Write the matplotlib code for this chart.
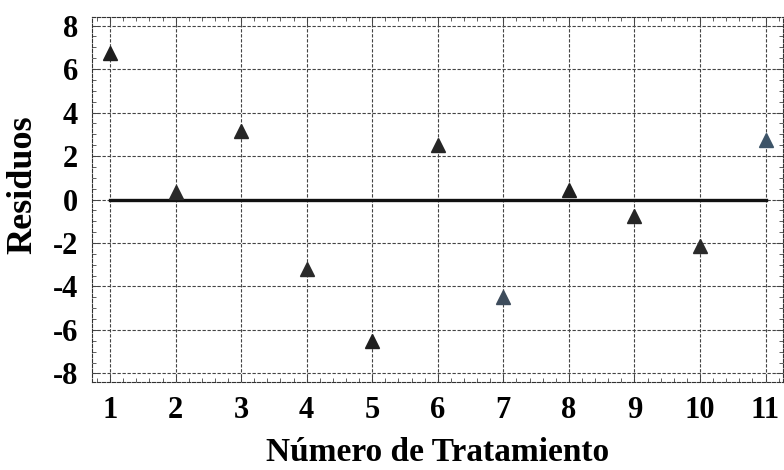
import matplotlib
matplotlib.use("Agg")
import matplotlib.pyplot as plt
from matplotlib.ticker import MultipleLocator

tratamiento = [1, 2, 3, 4, 5, 6, 7, 8, 9, 10, 11]
residuos = [6.75, 0.35, 3.15, -3.2, -6.5, 2.5, -4.5, 0.45, -0.75, -2.15, 2.75]
colores = ["#1e1e1e", "#2a2a2a", "#262626", "#2a2a2a", "#1e1e1e", "#262626",
           "#3d4c5c", "#1e1e1e", "#262626", "#2a2a2a", "#3d5468"]
yticks = [-8, -6, -4, -2, 0, 2, 4, 6, 8]

plt.rcParams['font.family'] = ['Liberation Serif', 'DejaVu Serif']
plt.rcParams['font.weight'] = 'bold'
plt.rcParams['axes.unicode_minus'] = False

fig = plt.figure(figsize=(7.84, 4.70), dpi=100)
ax = fig.add_axes([0.117, 0.187, 0.882, 0.777])

ax.set_xlim(0.72, 11.27)
ax.set_ylim(-8.4, 8.4)
ax.set_xticks(tratamiento)
ax.set_yticks(yticks)
ax.xaxis.set_minor_locator(MultipleLocator(0.2))
ax.yaxis.set_minor_locator(MultipleLocator(0.5))

ax.grid(True, which='major', color='#444444', linestyle=(0, (3, 1.5)), linewidth=0.8)
ax.axhline(0, xmin=(1 - 0.72) / (11.27 - 0.72), xmax=(11 - 0.72) / (11.27 - 0.72),
           color='#111111', linewidth=2.4, zorder=2)

for x, y, c in zip(tratamiento, residuos, colores):
    ax.plot(x, y, marker='^', markersize=10, color=c, linestyle='none', zorder=3)

for s in ax.spines.values():
    s.set_linestyle((0, (3, 1.5)))
    s.set_linewidth(0.8)
    s.set_color('#333333')

ax.tick_params(which='both', direction='in', top=True, right=True, color='#444444')
ax.tick_params(which='major', length=5, width=0.7, labelsize=22)
ax.tick_params(axis='x', which='major', pad=10)
ax.tick_params(axis='y', which='major', pad=10)
ax.tick_params(which='minor', length=3, width=0.6)
for lab in ax.get_xticklabels() + ax.get_yticklabels():
    lab.set_fontweight('bold')

ax.set_xlabel('Número de Tratamiento', fontsize=24, fontweight='bold', labelpad=9)
ax.set_ylabel('Residuos', fontsize=26, fontweight='bold')
ax.yaxis.set_label_coords(-0.075, 0.54)

fig.savefig('out.png', dpi=100)
